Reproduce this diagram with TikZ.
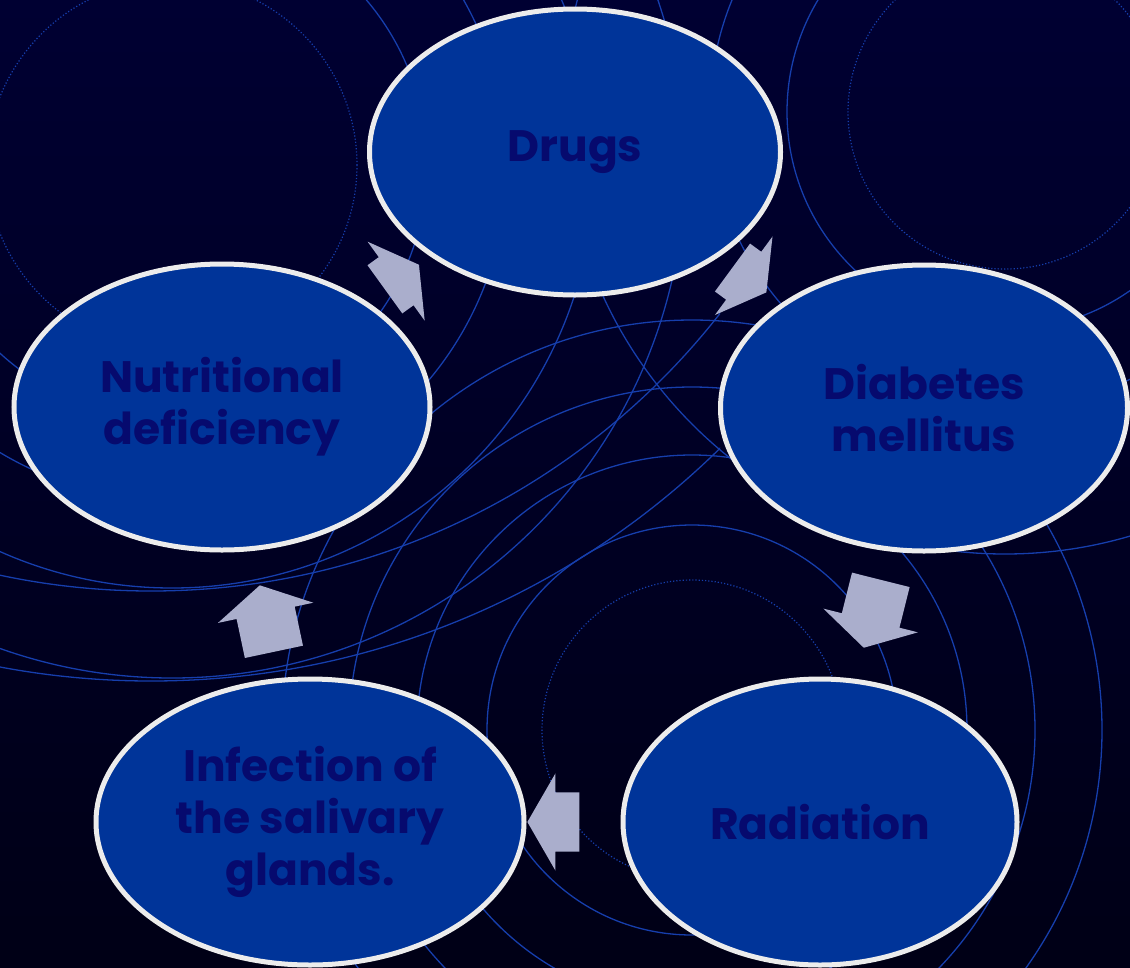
\documentclass[tikz,border=0pt]{standalone}
\usepackage{fontspec}
\setmainfont{Poppins}
\usetikzlibrary{calc,shapes.geometric,shapes.arrows}

\definecolor{bgtop}{RGB}{0,0,50}
\definecolor{bgmid}{RGB}{0,10,112}
\definecolor{bgbot}{RGB}{0,0,22}
\definecolor{ringblue}{RGB}{22,62,172}
\definecolor{cellfill}{RGB}{0,52,153}
\definecolor{cellrim}{RGB}{236,236,236}
\definecolor{celltext}{RGB}{6,10,110}
\definecolor{arrowgrey}{RGB}{170,174,204}

\tikzset{
  ring/.style={draw=ringblue, line width=1.3pt},
  dotring/.style={draw=ringblue, line width=1.2pt, dash pattern=on 1.2pt off 2pt},
  cause/.style={ellipse, draw=cellrim, line width=5pt, fill=cellfill, inner sep=0pt,
    minimum height=286pt, text=celltext, align=center,
    font=\fontsize{44}{52}\selectfont\bfseries},
  cyclearrow/.style={single arrow, fill=arrowgrey, draw=none, inner xsep=0pt, inner ysep=29.5pt,
    single arrow head extend=19pt, single arrow tip angle=120},
}

\begin{document}
\begin{tikzpicture}[x=1pt,y=-1pt]
        \useasboundingbox (0,0) rectangle (1130,967);
        \clip (0,0) rectangle (1130,967);
        \shade[top color=bgtop, middle color=bgmid, bottom color=bgbot] (0,0) rectangle (1130,967);

        % ripples
        \foreach \r in {205,275,343,410} \draw[ring] (692,730) circle[radius=\r];
        \draw[dotring] (692,730) circle[radius=150];
        \foreach \r in {218,295,442} \draw[ring] (1005,112) circle[radius=\r];
        \draw[dotring] (1005,112) circle[radius=157];
        \foreach \r in {255,335,423,513} \draw[ring] (172,165) circle[radius=\r];
        \draw[dotring] (172,165) circle[radius=185];
        \begin{scope}
          \clip (0,300) rectangle (720,967);
          \foreach \r in {722,812} \draw[ring] (151,-131) circle[radius=\r];
        \end{scope}

        \node[cause, minimum width=411pt] (drugs) at (575,152) {Drugs};
        \node[cause, minimum width=407pt] (diab) at (924,408) {Diabetes\\mellitus};
        \node[cause, minimum width=394pt] (rad) at (820,822) {Radiation};
        \node[cause, minimum width=428pt] (inf) at (310,822) {Infection of\\the salivary\\glands.};
        \node[cause, minimum width=416pt] (nutr) at (222,407) {Nutritional\\deficiency};

        \foreach \a/\b/\t/\len [count=\i] in {nutr/drugs/0.49/42, drugs/diab/0.48/42,
            diab/rad/0.477/70, rad/inf/0.506/52, inf/nutr/0.47/68}
          \path let \p1=($(\b)-(\a)$), \n1={atan2(\y1,\x1)} in
            node[cyclearrow, minimum height=\len pt, rotate=\n1] (arrow\i) at ($(\a)!\t!(\b)$) {};

    \end{tikzpicture}
\end{document}
